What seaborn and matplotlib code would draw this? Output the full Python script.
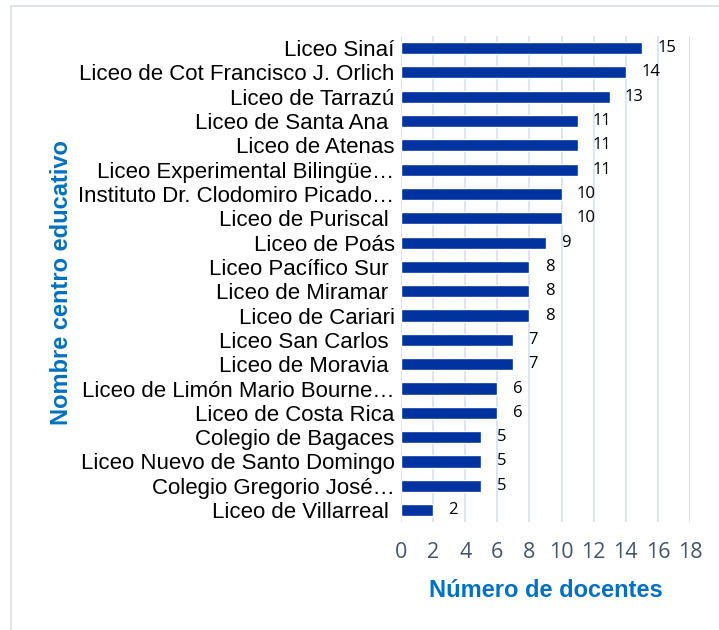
import matplotlib
matplotlib.use("Agg")
import matplotlib.pyplot as plt
import seaborn as sns
import pandas as pd

centros = [
    "Liceo Sinaí",
    "Liceo de Cot Francisco J. Orlich",
    "Liceo de Tarrazú",
    "Liceo de Santa Ana ",
    "Liceo de Atenas",
    "Liceo Experimental Bilingüe…",
    "Instituto Dr. Clodomiro Picado…",
    "Liceo de Puriscal ",
    "Liceo de Poás",
    "Liceo Pacífico Sur ",
    "Liceo de Miramar ",
    "Liceo de Cariari",
    "Liceo San Carlos ",
    "Liceo de Moravia ",
    "Liceo de Limón Mario Bourne…",
    "Liceo de Costa Rica",
    "Colegio de Bagaces",
    "Liceo Nuevo de Santo Domingo",
    "Colegio Gregorio José…",
    "Liceo de Villarreal ",
]
docentes = [15, 14, 13, 11, 11, 11, 10, 10, 9, 8, 8, 8, 7, 7, 6, 6, 5, 5, 5, 2]
x_ticks = [0, 2, 4, 6, 8, 10, 12, 14, 16, 18]

df = pd.DataFrame({"centro": centros, "docentes": docentes})

sns.set_theme(style="white")
plt.rcParams["font.family"] = ["Liberation Sans", "DejaVu Sans"]

fig = plt.figure(figsize=(7.19, 6.3), dpi=100)
ax = fig.add_axes([0.5577, 0.171, 0.402, 0.772])

sns.barplot(data=df, x="docentes", y="centro", orient="h", color="#0033a0",
            saturation=1, width=0.5, ax=ax, zorder=3)

ax.set_xlim(0, 18)
ax.set_xticks(x_ticks)
ax.set_xticklabels([str(t) for t in x_ticks], fontsize=15.5, color="#44546a",
                   family="Open Sans")
ax.tick_params(axis="x", length=0, pad=14)
ax.tick_params(axis="y", length=0, pad=4.5, labelsize=16, labelcolor="black")

ax.grid(axis="x", color="#d9dee8", linewidth=1.2, zorder=0)
ax.grid(axis="y", visible=False)
for s in ax.spines.values():
    s.set_visible(False)

for i, v in enumerate(docentes):
    ax.annotate(str(v), (v, i), xytext=(11, 0), textcoords="offset points",
                va="center", ha="left", fontsize=12, family="Open Sans",
                color="black")

ax.set_xlabel("Número de docentes", fontsize=17, fontweight="bold",
              color="#0070c0", labelpad=12)
ax.set_ylabel("Nombre centro educativo", fontsize=17, fontweight="bold",
              color="#0070c0")
ax.yaxis.set_label_coords((73 - 401) / 289, 0.492)

fig.add_artist(plt.Line2D([11 / 719, 1], [1 - 6 / 630, 1 - 6 / 630],
                          color="#d9dee8", linewidth=1.2))
fig.add_artist(plt.Line2D([11 / 719, 11 / 719], [0, 1 - 6 / 630],
                          color="#d9dee8", linewidth=1.2))

fig.savefig("out.png", dpi=100)
